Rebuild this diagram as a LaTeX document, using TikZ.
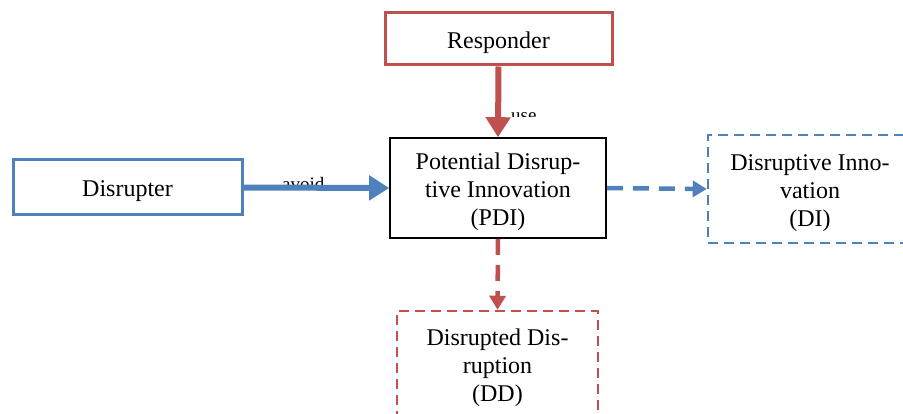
\documentclass[tikz,border=0pt]{standalone}
\usepackage{fontspec}
\setmainfont{Liberation Serif}
\usetikzlibrary{arrows.meta}
\definecolor{ored}{HTML}{C0504D}
\definecolor{oblue}{HTML}{4F81BD}
\newcommand\mytstrut{\rule{0pt}{24pt}}
\begin{document}
\begin{tikzpicture}[x=1pt,y=-1pt,
  box/.style={rectangle, inner sep=0pt, align=center, font=\fontsize{24}{28}\selectfont},
  lbl/.style={inner sep=0pt, font=\fontsize{19}{20}\selectfont},
  solidarrow/.style={line width=6pt, -{Triangle[length=20pt,width=24pt]}},
  dasharrow/.style={line width=4.5pt, dash pattern=on 16pt off 10pt, -{Triangle[length=14pt,width=16pt]}},
  dashbox/.style={line width=2.5pt, dash pattern=on 10pt off 6pt}]
\useasboundingbox (0,0) rectangle (903,414);
\fill[white] (0,0) rectangle (903,414);

\node[box, draw=ored, line width=3pt, minimum width=227pt, minimum height=52pt] (resp) at (498.5,39) {\mytstrut Responder};
\node[box, draw=oblue, line width=3pt, minimum width=229pt, minimum height=55pt] (disr) at (127.5,187.5) {\mytstrut Disrupter};
\node[box, draw=black, line width=1.6pt, minimum width=216pt, minimum height=100pt] (pdi) at (498,188) {\mytstrut Potential Disrup-\\tive Innovation\\(PDI)};
\node[box, draw=oblue, dashbox, minimum width=204pt, minimum height=108pt] (di) at (810,189) {\mytstrut Disruptive Inno-\\vation\\(DI)};
\node[box, draw=ored, dashbox, minimum width=201pt, minimum height=106pt] (dd) at (497.5,364) {\mytstrut Disrupted Dis-\\ruption\\(DD)};

\begin{scope}
  \clip (500,95) rectangle (560,117);
  \node[lbl, anchor=base west] (use) at (511,122) {use};
\end{scope}
\begin{scope}
  \clip (270,165) rectangle (345,185);
  \node[lbl, anchor=base west] (avoid) at (282,191) {avoid};
\end{scope}

\draw[solidarrow, ored] (resp.south) -- (pdi.north);
\draw[solidarrow, oblue] (disr.east) -- (pdi.west);
\draw[dasharrow, oblue] (pdi.east) -- (di.west);
\draw[dasharrow, ored] (pdi.south) -- (dd.north);
\end{tikzpicture}
\end{document}
